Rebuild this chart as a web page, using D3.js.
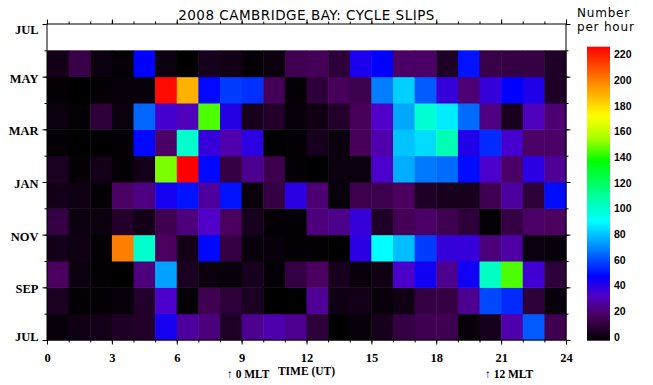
<!DOCTYPE html>
<html>
<head>
<meta charset="utf-8">
<script src="https://cdn.jsdelivr.net/npm/d3@7"></script>
<style>
  html, body { margin: 0; padding: 0; background: #fff; }
  svg { display: block; }
</style>
</head>
<body>
<svg id="chart" width="653" height="385"></svg>
<script>
// hours 0..23 UT, one row per month from JUL (bottom) up to MAY; JUN has no data
const hours = d3.range(24);
const months = ['JUL', 'AUG', 'SEP', 'OCT', 'NOV', 'DEC', 'JAN', 'FEB', 'MAR', 'APR', 'MAY', 'JUN'];

const jul = [2, 4, 5, 8, 9, 46, 29, 24, 8, 27, 31, 27, 12, 0, 2, 6, 14, 17, 17, 2, 6, 31, 65, 17];
const aug = [7, 1, 1, 2, 9, 36, 1, 17, 12, 7, 0, 0, 28, 4, 5, 2, 4, 14, 14, 27, 62, 57, 12, 2];
const sep = [20, 3, 1, 0, 24, 77, 7, 3, 2, 6, 1, 14, 20, 6, 2, 4, 36, 47, 27, 47, 105, 148, 38, 12];
const oct = [5, 4, 1, 203, 103, 20, 5, 51, 14, 2, 2, 1, 1, 0, 42, 93, 82, 60, 40, 40, 24, 30, 3, 2];
const nov = [14, 3, 3, 9, 5, 17, 24, 35, 20, 6, 1, 1, 24, 26, 40, 8, 18, 21, 17, 12, 1, 14, 21, 20];
const dec = [5, 4, 1, 21, 25, 46, 53, 29, 53, 2, 14, 42, 23, 2, 16, 16, 20, 8, 6, 6, 17, 29, 12, 52];
const jan = [7, 1, 5, 1, 5, 153, 229, 51, 14, 27, 16, 1, 0, 3, 3, 36, 79, 70, 68, 52, 36, 21, 42, 28];
const feb = [1, 0, 0, 1, 51, 21, 103, 40, 31, 42, 0, 1, 6, 3, 19, 31, 83, 87, 108, 44, 57, 37, 21, 21];
const mar = [3, 1, 12, 3, 67, 37, 33, 148, 43, 6, 9, 2, 4, 9, 19, 35, 78, 102, 90, 68, 25, 6, 33, 23];
const apr = [1, 0, 1, 2, 2, 227, 192, 51, 60, 58, 18, 1, 12, 19, 16, 71, 85, 65, 40, 23, 40, 50, 44, 8];
const may = [5, 15, 3, 1, 50, 3, 0, 6, 5, 1, 3, 17, 18, 12, 45, 50, 21, 21, 8, 53, 15, 14, 14, 8];
const rows = [jul, aug, sep, oct, nov, dec, jan, feb, mar, apr, may];

const xTickValues = [0, 3, 6, 9, 12, 15, 18, 21, 24];
const yTickLabels = ['JUL', 'SEP', 'NOV', 'JAN', 'MAR', 'MAY', 'JUL'];
const barTicks = [0, 20, 40, 60, 80, 100, 120, 140, 160, 180, 200, 220];
const barMax = 229;

// black -> purple -> blue -> cyan -> green -> yellow -> red
const colorStops = [0, 20, 35, 50, 70, 93, 110, 140, 158, 175, 200, 229];
const colorList = ['#000000', '#4b005f', '#5000c8', '#0000ff', '#0078ff', '#00ffff',
                   '#00ffaa', '#00ff00', '#aaff00', '#ffff00', '#ff8c00', '#ff0000'];

const svg = d3.select('#chart');
const plotLeft = 47, plotRight = 566, plotTop = 24, plotBottom = 340;

const x = d3.scaleLinear().domain([0, 24]).range([plotLeft, plotRight]);
const y = d3.scaleLinear().domain([0, 12]).range([plotBottom, plotTop]);
const color = d3.scaleLinear().domain(colorStops).range(colorList).clamp(true);

const cells = rows.flatMap((vals, m) => vals.map((v, h) => ({m, h, v})));

svg.append('g')
  .selectAll('rect')
  .data(cells)
  .enter()
  .append('rect')
  .attr('x', d => x(hours[d.h]))
  .attr('y', d => y(d.m + 1))
  .attr('width', d => x(hours[d.h] + 1) - x(hours[d.h]) + 0.5)
  .attr('height', d => y(d.m) - y(d.m + 1) + 0.5)
  .attr('fill', d => color(d.v));

// frame
svg.append('rect')
  .attr('x', plotLeft).attr('y', plotTop)
  .attr('width', plotRight - plotLeft).attr('height', plotBottom - plotTop)
  .attr('fill', 'none').attr('stroke', '#000').attr('stroke-width', 1);

const minorLen = 2.5, majorLen = 4.5;
const labelFont = '"Liberation Serif", "Times New Roman", serif';

function ticksOnly(axis, transform, values, size) {
  const g = svg.append('g').attr('transform', transform)
    .call(axis.tickValues(values).tickSize(size).tickFormat(''));
  g.select('.domain').remove();
  g.selectAll('line').attr('stroke', '#000');
  return g;
}

// minor ticks every hour / month, all four sides
ticksOnly(d3.axisBottom(x), `translate(0,${plotBottom})`, d3.range(25), minorLen);
ticksOnly(d3.axisTop(x), `translate(0,${plotTop})`, d3.range(25), minorLen);
ticksOnly(d3.axisLeft(y), `translate(${plotLeft},0)`, d3.range(13), minorLen);
ticksOnly(d3.axisRight(y), `translate(${plotRight},0)`, d3.range(13), minorLen);
ticksOnly(d3.axisTop(x), `translate(0,${plotTop})`, xTickValues, majorLen);
ticksOnly(d3.axisRight(y), `translate(${plotRight},0)`, d3.range(0, 13, 2), majorLen);

// bottom axis with labels
const xAxis = svg.append('g')
  .attr('transform', `translate(0,${plotBottom})`)
  .call(d3.axisBottom(x).tickValues(xTickValues).tickSize(majorLen).tickPadding(8.5));
xAxis.select('.domain').remove();
xAxis.selectAll('line').attr('stroke', '#000');
xAxis.selectAll('text')
  .attr('font-family', labelFont).attr('font-size', 12.5)
  .attr('font-weight', 'bold').attr('fill', '#000');

// left axis with month labels
const yAxis = svg.append('g')
  .attr('transform', `translate(${plotLeft},0)`)
  .call(d3.axisLeft(y).tickValues(d3.range(0, 13, 2)).tickSize(majorLen).tickPadding(4)
    .tickFormat((d, i) => yTickLabels[i]));
yAxis.select('.domain').remove();
yAxis.selectAll('line').attr('stroke', '#000');
yAxis.selectAll('text')
  .attr('font-family', labelFont).attr('font-size', 12.5)
  .attr('font-weight', 'bold').attr('fill', '#000')
  .attr('y', d => d === 0 ? -4 : d === 12 ? 5 : 1.5);

// title
svg.append('text')
  .attr('x', (plotLeft + plotRight) / 2).attr('y', 20)
  .attr('text-anchor', 'middle')
  .attr('font-family', '"DejaVu Sans", sans-serif').attr('font-size', 13.5)
  .attr('letter-spacing', 0.5)
  .text('2008 CAMBRIDGE BAY: CYCLE SLIPS');

// bottom annotations
svg.append('text')
  .attr('x', (plotLeft + plotRight) / 2).attr('y', 375)
  .attr('text-anchor', 'middle')
  .attr('font-family', labelFont).attr('font-size', 11.5).attr('font-weight', 'bold')
  .text('TIME (UT)');
svg.append('text')
  .attr('x', 227).attr('y', 378)
  .attr('font-family', labelFont).attr('font-size', 11.5).attr('font-weight', 'bold')
  .text('\u2191 0 MLT');
svg.append('text')
  .attr('x', 485).attr('y', 378)
  .attr('font-family', labelFont).attr('font-size', 11.5).attr('font-weight', 'bold')
  .text('\u2191 12 MLT');

// colour bar
const barX = 587, barW = 23;
const yb = d3.scaleLinear().domain([0, barMax]).range([340.7, 46.7]);

const grad = svg.append('defs').append('linearGradient')
  .attr('id', 'bar-gradient')
  .attr('x1', 0).attr('y1', 1).attr('x2', 0).attr('y2', 0);
grad.selectAll('stop')
  .data(d3.range(101))
  .enter()
  .append('stop')
  .attr('offset', d => d / 100)
  .attr('stop-color', d => color(barMax * d / 100));

svg.append('rect')
  .attr('x', barX).attr('y', yb(barMax))
  .attr('width', barW).attr('height', yb(0) - yb(barMax))
  .attr('fill', 'url(#bar-gradient)');

svg.append('g')
  .selectAll('text')
  .data(barTicks)
  .enter()
  .append('text')
  .attr('x', 614)
  .attr('y', d => yb(d) - 3.7)
  .attr('dy', '0.36em')
  .attr('font-family', '"Liberation Sans", Arial, sans-serif')
  .attr('font-size', 10.5).attr('font-weight', 'bold')
  .text(d => d);

svg.append('text')
  .attr('x', 577).attr('y', 17)
  .attr('font-family', '"DejaVu Sans", sans-serif').attr('font-size', 12)
  .attr('letter-spacing', 0.8)
  .text('Number');
svg.append('text')
  .attr('x', 577).attr('y', 31)
  .attr('font-family', '"DejaVu Sans", sans-serif').attr('font-size', 12)
  .attr('letter-spacing', 0.8)
  .text('per hour');
</script>
</body>
</html>
